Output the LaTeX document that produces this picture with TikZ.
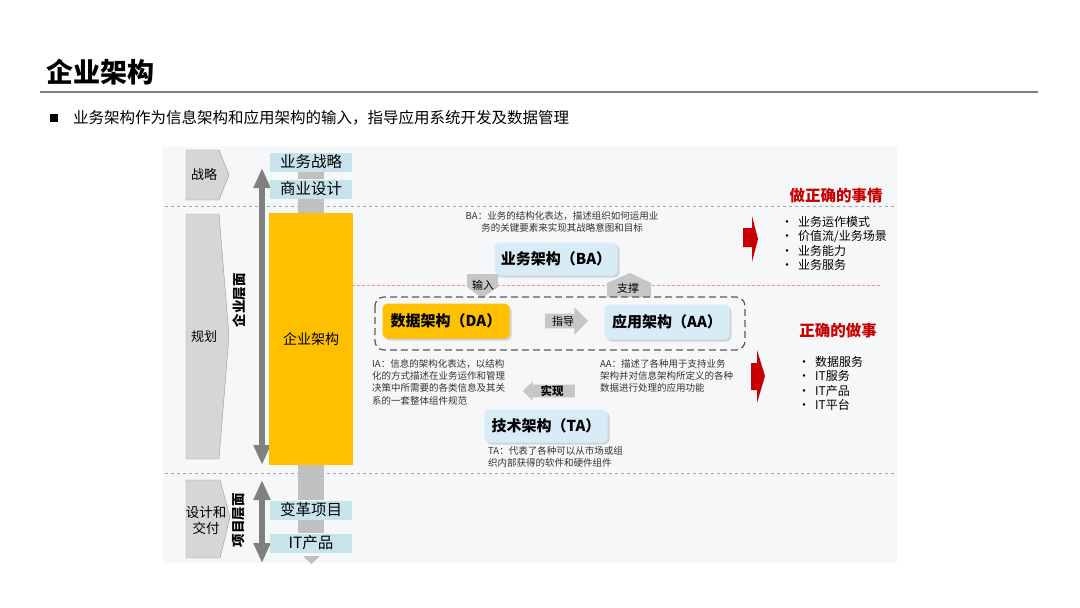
\documentclass[tikz,border=0pt]{standalone}
\usepackage{fontspec}
\setmainfont{Noto Sans CJK SC}
\usetikzlibrary{arrows.meta,positioning,shapes.arrows,shadows}

\definecolor{boxblue}{RGB}{199,228,236}
\definecolor{archblue}{RGB}{216,236,247}
\definecolor{eayellow}{RGB}{255,192,0}
\definecolor{phasegray}{RGB}{214,214,214}
\definecolor{bargray}{RGB}{192,192,192}
\definecolor{axisgray}{RGB}{128,128,128}
\definecolor{dored}{RGB}{200,0,0}
\definecolor{panelbg}{RGB}{246,247,249}

\tikzset{
  phase/.style={draw=gray!80,fill=phasegray},
  phasetext/.style={inner sep=0pt,align=center,font=\fontsize{13}{16}\selectfont},
  colbox/.style={fill=boxblue,minimum width=82pt,minimum height=19pt,inner sep=0pt,
    font=\fontsize{15.5}{17}\selectfont},
  arch/.style={rounded corners=5pt,fill=archblue,minimum width=123pt,minimum height=33pt,
    inner sep=0pt,font=\fontsize{15}{17}\selectfont\bfseries,
    drop shadow={opacity=.3,shadow xshift=2pt,shadow yshift=-2pt}},
  note/.style={font=\fontsize{9.5}{12.3}\selectfont,align=left,inner sep=0pt,
    anchor=north west,text=black!80},
  tag/.style={inner sep=0pt,font=\fontsize{11}{12}\selectfont},
  bar/.style={draw=bargray,line width=26pt},
  levelaxis/.style={draw=axisgray,line width=6pt,
    {Triangle[width=16pt,length=20pt]}-{Triangle[width=16pt,length=20pt]}},
  redhead/.style={text=dored,font=\fontsize{15.5}{17}\selectfont\bfseries},
  bullets/.style={anchor=north west,align=left,inner sep=0pt,
    font=\fontsize{12}{14.5}\selectfont}
}

\begin{document}
\begin{tikzpicture}[x=1pt,y=-1pt]
\useasboundingbox (0,0) rectangle (1080,608);
\fill[white] (0,0) rectangle (1080,608);

\node[anchor=west,inner sep=0pt,font=\fontsize{27}{30}\selectfont\bfseries] (title) at (46,72) {企业架构};
\draw[gray,line width=1.5pt] (40,92) -- (1038,92);
\node[fill=black,minimum size=8pt,inner sep=0pt] (sq) at (54,118) {};
\node[anchor=west,inner sep=0pt,font=\fontsize{15.5}{17}\selectfont] (lead) at (73,118)
  {业务架构作为信息架构和应用架构的输入，指导应用系统开发及数据管理};

\fill[panelbg] (163,147) rectangle (897,563);
\draw[gray!70,dashed] (165,206) -- (895,206);
\draw[gray!70,dashed] (165,473) -- (895,473);
\draw[red!45,dash pattern=on 3pt off 2pt] (352,285) -- (880,285);

\draw[phase] (186,150) -- (219,150) -- (229,175) -- (219,200) -- (186,200) -- cycle;
\node[phasetext] (zl) at (204,175) {战略};
\draw[phase] (186,214) -- (219,214) -- (229,336) -- (219,459) -- (186,459) -- cycle;
\node[phasetext] (gh) at (204,337) {规划};
\draw[phase] (186,480) -- (220,480) -- (230,517) -- (220,558) -- (186,558) -- cycle;
\node[phasetext,font=\fontsize{13.5}{16}\selectfont] (sj) at (206,520) {设计和\\交付};

\coordinate (enttop) at (262,168);
\coordinate (entbot) at (262,465);
\coordinate (prjtop) at (262,480);
\coordinate (prjbot) at (262,563);
\draw[levelaxis] (enttop) -- (entbot);
\draw[levelaxis] (prjtop) -- (prjbot);
\node[rotate=90,font=\fontsize{13.5}{15}\selectfont\bfseries] (entlvl) at (239,300) {企业层面};
\node[rotate=90,font=\fontsize{13.5}{15}\selectfont\bfseries] (prjlvl) at (239,520) {项目层面};

\node[colbox] (strat) at (311,162) {业务战略};
\node[colbox] (bizd) at (311,189) {商业设计};
\node[fill=eayellow,minimum width=84pt,minimum height=252pt,inner sep=0pt,
  font=\fontsize{14}{16}\selectfont] (ea) at (311,339) {企业架构};
\node[colbox] (chg) at (311,510) {变革项目};
\node[colbox] (itp) at (311,543) {IT产品};
\path[bar] (strat) edge (bizd)
           (bizd) edge (ea)
           (ea) edge (chg)
           (chg) edge (itp);
\fill[bargray] (303,556) -- (320,556) -- (311.5,564) -- cycle;

\node[note,anchor=north,align=center] (banote) at (562,211)
  {BA：业务的结构化表达，描述组织如何运用业\\务的关键要素来实现其战略意图和目标};
\node[arch] (ba) at (556,259) {业务架构（BA）};
\fill[gray!45] (467,274) -- (498,274) -- (498,287) -- (482,298) -- (467,287) -- cycle;
\node[tag] (inp) at (483,285) {输入};
\fill[gray!45] (630,273) -- (651,283) -- (651,297) -- (607,297) -- (607,283) -- cycle;
\node[tag] (sup) at (628,288) {支撑};

\draw[black!65,line width=1.2pt,dash pattern=on 7pt off 4pt,rounded corners=9pt]
  (375,297) rectangle (745,350);
\node[arch,fill=eayellow,minimum width=127pt,minimum height=35pt] (da) at (446,321) {数据架构（DA）};
\node[single arrow,fill=gray!45,minimum height=43pt,single arrow head extend=6.5pt,
  inner xsep=3pt,inner ysep=2pt,font=\fontsize{11}{12}\selectfont] (guide) at (563,321) {指导};
\node[arch,minimum width=125pt,minimum height=35pt] (aa) at (667,322) {应用架构（AA）};

\node[note] (ianote) at (372,359)
  {IA：信息的架构化表达，以结构\\化的方式描述在业务运作和管理\\决策中所需要的各类信息及其关\\系的一套整体组件规范};
\node[note] (aanote) at (600,359)
  {AA：描述了各种用于支持业务\\架构并对信息架构所定义的各种\\数据进行处理的应用功能};
\node[single arrow,shape border rotate=180,fill=gray!45,minimum height=52pt,
  single arrow head extend=3.5pt,inner xsep=3pt,inner ysep=0.5pt,
  font=\fontsize{11.5}{12}\selectfont\bfseries] (impl) at (552,391) {实现};
\node[arch] (ta) at (546,426) {技术架构（TA）};
\node[note] (tanote) at (488,446)
  {TA：代表了各种可以从市场或组\\织内部获得的软件和硬件组件};

\fill[dored] (743,228) -- (752,228) -- (752,216) -- (758,239) -- (752,262)
  -- (752,247) -- (743,247) -- cycle;
\fill[dored] (751,363) -- (757,363) -- (757,350) -- (765,376) -- (757,403)
  -- (757,390) -- (751,390) -- cycle;

\node[redhead] (right) at (836,196) {做正确的事情};
\node[bullets] (rightlist) at (781,216)
  {\makebox[17pt][l]{•}业务运作模式\\\makebox[17pt][l]{•}价值流/业务场景\\
   \makebox[17pt][l]{•}业务能力\\\makebox[17pt][l]{•}业务服务};
\node[redhead] (well) at (838,331) {正确的做事};
\node[bullets] (welllist) at (798,356)
  {\makebox[17pt][l]{•}数据服务\\\makebox[17pt][l]{•}IT服务\\
   \makebox[17pt][l]{•}IT产品\\\makebox[17pt][l]{•}IT平台};
\end{tikzpicture}
\end{document}
